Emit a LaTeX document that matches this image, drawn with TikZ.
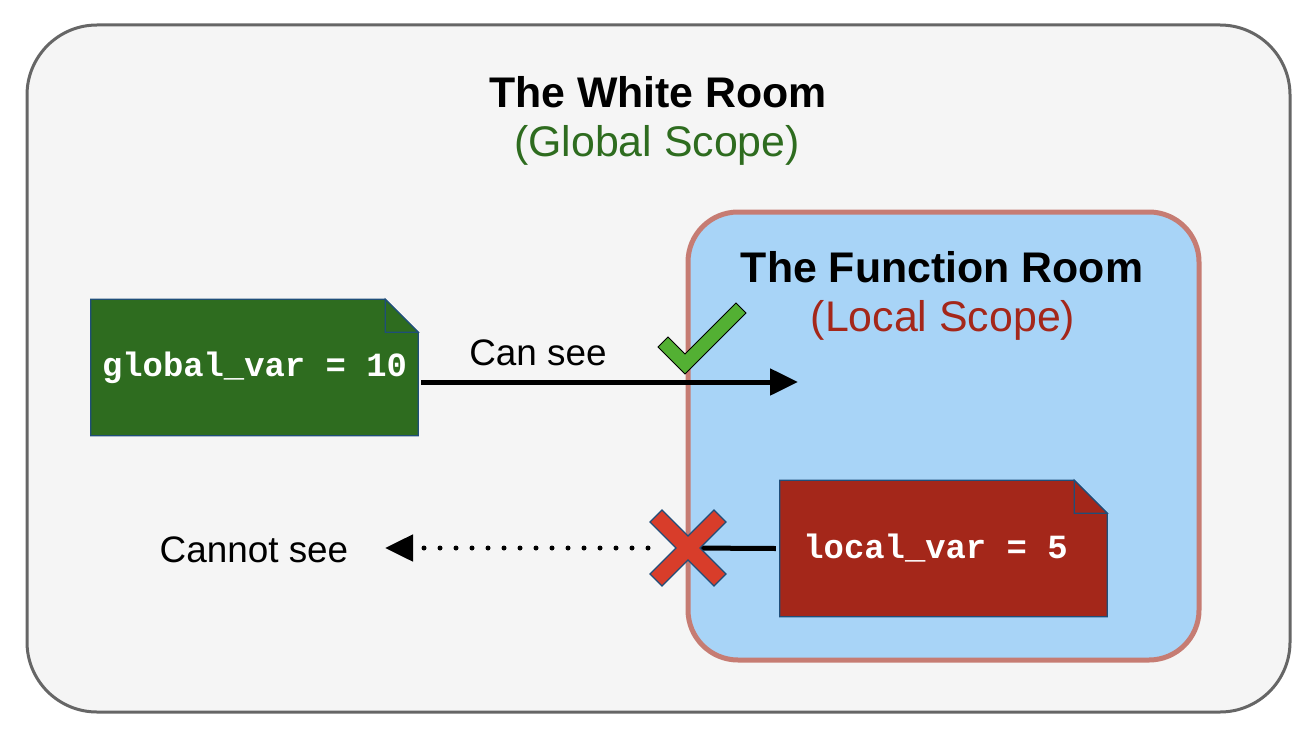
\documentclass[tikz,border=0pt]{standalone}
\usepackage{fontspec}
\setmainfont{Liberation Sans}
\newfontfamily\codefont{Liberation Mono}
\usetikzlibrary{arrows.meta,positioning}
\definecolor{roomgray}{HTML}{F5F5F5}
\definecolor{roomline}{HTML}{666666}
\definecolor{funcblue}{HTML}{A8D4F7}
\definecolor{funcline}{HTML}{C67C73}
\definecolor{globgreen}{HTML}{2E6C1F}
\definecolor{locred}{HTML}{A4271A}
\definecolor{noteline}{HTML}{1F4E79}
\definecolor{checkgreen}{HTML}{53B033}
\definecolor{crossred}{HTML}{D83D2A}

\tikzset{
    title/.style={font=\fontsize{43}{48}\selectfont\bfseries},
    subtitle/.style={font=\fontsize{43}{48}\selectfont},
    plain/.style={font=\fontsize{37}{42}\selectfont},
    note/.style={minimum width=327bp, minimum height=136bp, inner sep=0pt,
        text=white, font=\fontsize{34}{38}\codefont\bfseries},
    fold/.style={draw=noteline, line width=1.2bp, line join=miter},
    link/.style={line width=5bp},
}

% folded-corner note drawn over a named node
\newcommand{\foldnote}[2]{%
    \filldraw[fold, fill=#2] (#1.south west) -- (#1.north west)
        -- ([xshift=-33bp]#1.north east) -- ([yshift=-33bp]#1.north east)
        -- (#1.south east) -- cycle;
    \filldraw[fold, fill=#2] ([xshift=-33bp]#1.north east)
        -- ([xshift=-33bp,yshift=-33bp]#1.north east)
        -- ([yshift=-33bp]#1.north east) -- cycle;
}

\begin{document}
\begin{tikzpicture}[x=1bp,y=-1bp]
    \useasboundingbox (0,0) rectangle (1316,736);

    % rooms
    \filldraw[fill=roomgray, draw=roomline, line width=3bp, rounded corners=70bp]
        (27,25) rectangle (1290,712);
    \filldraw[fill=funcblue, draw=funcline, line width=5bp, rounded corners=50bp]
        (688,212) rectangle (1199,660);

    \node[title] (white) at (658,92) {The White Room};
    \node[subtitle, text=globgreen] (global) at (657,145) {(Global Scope)};
    \node[title] (func) at (942,267) {The Function Room};
    \node[subtitle, text=locred] (local) at (943,320) {(Local Scope)};

    % notes
    \node[note] (gvar) at (254.5,367.5) {};
    \foldnote{gvar}{globgreen}
    \node[note, text=white] at (gvar.center) {global\_var = 10};

    \node[note] (lvar) at (943.5,548.5) {};
    \foldnote{lvar}{locred}
    \node[note] at ([xshift=-8bp]lvar.center) {local\_var = 5};

    % connectors
    \coordinate (seeend) at (798,382);
    \coordinate (xmark) at (688,548);
    \coordinate (cannot) at (385,548);
    \draw[link, -{Triangle[length=28bp,width=26bp]}] (gvar.east |- seeend) ++(3,0) -- (seeend);
    \node[plain] (cansee) at (538,353) {Can see};
    \draw[link] (lvar.west) ++(-4,0) -- (xmark);
    \draw[line width=5bp, dash pattern=on 0pt off 16bp, line cap=round,
        -{Triangle[length=28bp,width=26bp,line cap=butt]}] (xmark) ++(-40,0) -- (cannot);
    \node[plain] (cannotsee) at (254,550) {Cannot see};

    % check mark and cross
    \filldraw[fill=checkgreen, draw=black, line width=1bp, line join=miter]
        (658,347) -- (668,337) -- (685,354) -- (736,303) -- (746,313) -- (685,374) -- cycle;
    \filldraw[fill=crossred, draw=noteline, line width=1.2bp]
        (xmark) ++(0,-12) -- ++(26,-26) -- ++(12,12) -- ++(-26,26)
        -- ++(26,26) -- ++(-12,12) -- ++(-26,-26) -- ++(-26,26) -- ++(-12,-12)
        -- ++(26,-26) -- ++(-26,-26) -- ++(12,-12) -- cycle;
\end{tikzpicture}
\end{document}
